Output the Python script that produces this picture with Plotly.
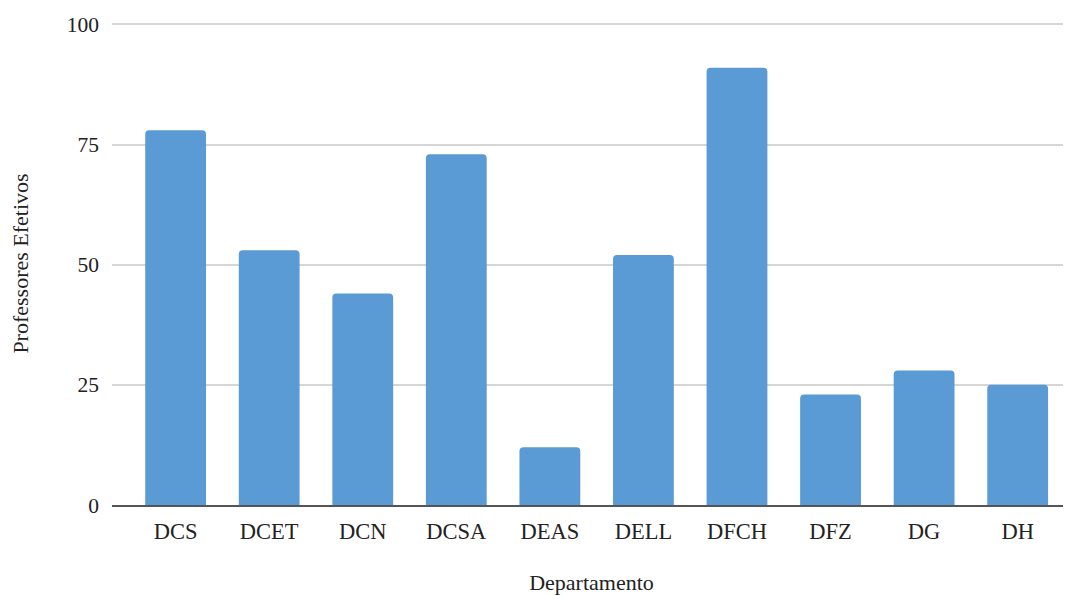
import plotly.graph_objects as go

departamentos = ["DCS", "DCET", "DCN", "DCSA", "DEAS", "DELL", "DFCH", "DFZ", "DG", "DH"]
professores = [78, 53, 44, 73, 12, 52, 91, 23, 28, 25]
y_ticks = [0, 25, 50, 75, 100]

FONT = "Liberation Serif, Times New Roman, serif"

fig = go.Figure(
    go.Bar(
        x=departamentos,
        y=professores,
        marker=dict(color="#5B9BD5", line=dict(width=0), cornerradius=4),
        width=0.65,
    )
)

# page body has an 8px default margin, so the figure is sized/offset to compensate
fig.update_layout(
    width=1063,
    height=588,
    margin=dict(l=104, r=0, t=14, b=91),
    paper_bgcolor="white",
    plot_bgcolor="white",
    font=dict(family=FONT, size=21, color="#222222"),
    showlegend=False,
)

fig.update_xaxes(
    range=[-0.68, 9.57],
    showgrid=False,
    showline=True,
    linecolor="#555555",
    linewidth=2,
    ticks="",
    ticklabelstandoff=5,
    tickfont=dict(family=FONT, size=22.5, color="#222222"),
    title=dict(text="Departamento", font=dict(family=FONT, size=22, color="#222222"), standoff=32),
)

fig.update_yaxes(
    range=[0, 100.5],
    tickvals=y_ticks,
    showgrid=True,
    gridcolor="#d6d6d6",
    gridwidth=1.5,
    zeroline=False,
    showline=False,
    ticks="",
    ticklabelstandoff=12,
    tickfont=dict(family=FONT, size=21.5, color="#222222"),
    title=dict(text="Professores Efetivos", font=dict(family=FONT, size=22, color="#222222"), standoff=34),
)

fig.write_html("out.html")
